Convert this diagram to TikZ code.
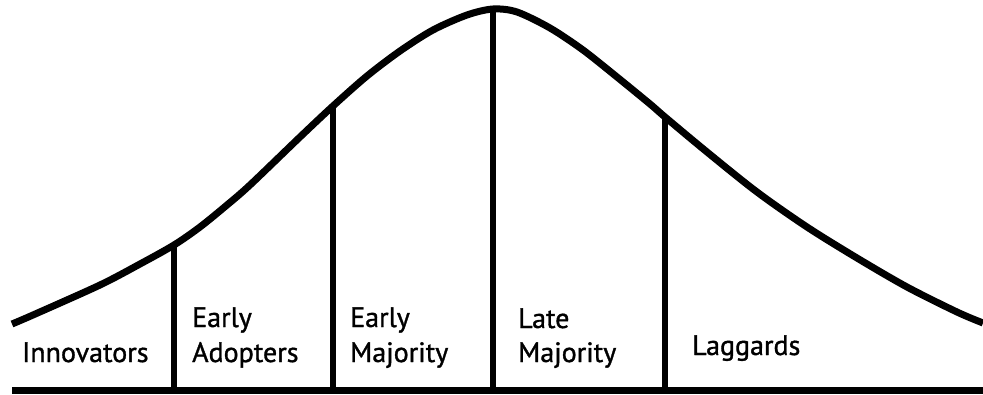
\documentclass[tikz,border=0pt]{standalone}
\usepackage{fontspec}
\setmainfont{PT Sans}[FakeBold=1.2]
\begin{document}
\begin{tikzpicture}[x=1pt,y=-1pt,
  curveline/.style={line width=7pt,line cap=butt,line join=round},
  divider/.style={line width=5.5pt},
  baseline/.style={line width=7pt},
  lbl/.style={anchor=base west,inner sep=0pt,font=\fontsize{28}{34}\selectfont}]
\useasboundingbox (0,0) rectangle (983,394);
% bell curve
\draw[curveline] plot[smooth,tension=0.5] coordinates {
 (12,324) (33,315) (100,285) (140,264) (174,245) (200,227) (227,205) (250,185)
 (300,137) (333,106) (367,76) (400,51) (433,30) (467,15) (493,9) (517,12)
 (550,28) (583,50) (617,77) (650,104) (665,117) (707,152) (757,192) (807,227)
 (857,258) (907,287) (957,312) (983,323)};
% coordinates
\coordinate (b0) at (12,390);
\coordinate (b1) at (983,390);
\coordinate (t1) at (174,245);
\coordinate (u1) at (174,390);
\coordinate (t2) at (333,106);
\coordinate (u2) at (333,390);
\coordinate (t3) at (493,9);
\coordinate (u3) at (493,390);
\coordinate (t4) at (665,117);
\coordinate (u4) at (665,390);
\draw[divider] (t1) -- (u1);
\draw[divider] (t2) -- (u2);
\draw[divider] (t3) -- (u3);
\draw[divider] (t4) -- (u4);
\draw[baseline] (b0) -- (b1);
% labels
\node[lbl] (inn) at (22,362) {Innovators};
\node[lbl] (ea1) at (192,327) {Early};
\node[lbl] (ea2) at (192,362) {Adopters};
\node[lbl] (em1) at (350,327) {Early};
\node[lbl] (em2) at (350,362) {Majority};
\node[lbl] (lm1) at (518,328) {Late};
\node[lbl] (lm2) at (518,362) {Majority};
\node[lbl] (lag) at (692,355) {Laggards};
\end{tikzpicture}
\end{document}
